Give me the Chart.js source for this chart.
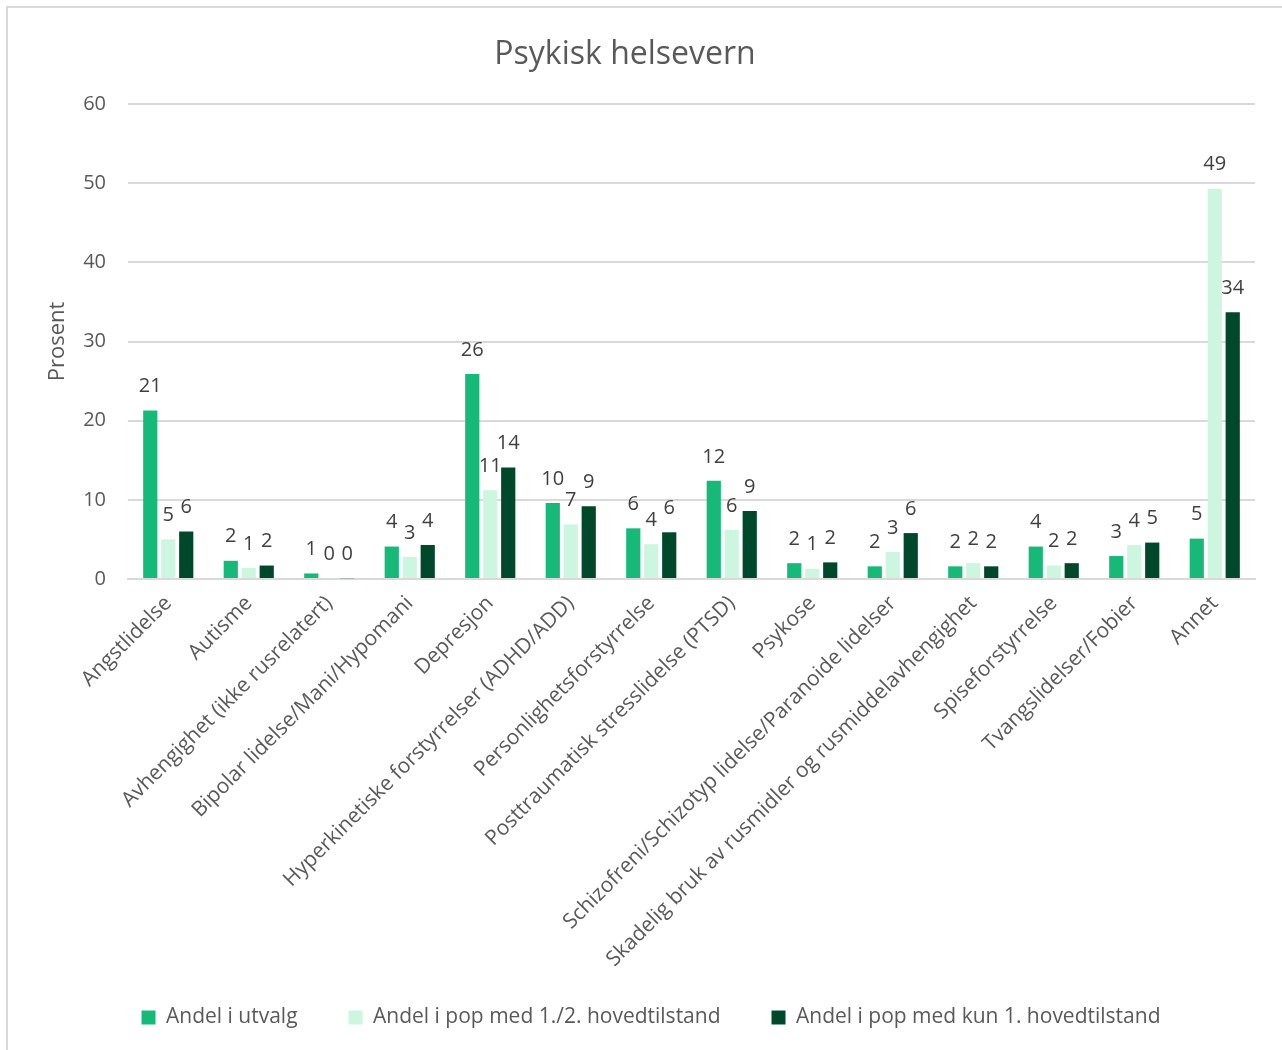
<!DOCTYPE html>
<html lang="no">
<head>
<meta charset="utf-8">
<title>Psykisk helsevern</title>
<script src="https://cdn.jsdelivr.net/npm/chart.js@4.4.1/dist/chart.umd.min.js"></script>
<style>
  html, body { margin: 0; padding: 0; background: #fff; overflow: hidden; }
  #wrap {
    position: absolute; left: 6px; top: 6px;
    width: 1276px; height: 1044px;
    border-left: 2px solid #d9d9d9; border-top: 2px solid #d9d9d9;
    box-sizing: border-box;
  }
</style>
</head>
<body>
<div id="wrap"><canvas id="helseChart"></canvas></div>
<script>
// Kategorier og andeler (prosent)
var kategorier = [
  'Angstlidelse', 'Autisme', 'Avhengighet (ikke rusrelatert)',
  'Bipolar lidelse/Mani/Hypomani', 'Depresjon',
  'Hyperkinetiske forstyrrelser (ADHD/ADD)', 'Personlighetsforstyrrelse',
  'Posttraumatisk stresslidelse (PTSD)', 'Psykose',
  'Schizofreni/Schizotyp lidelse/Paranoide lidelser',
  'Skadelig bruk av rusmidler og rusmiddelavhengighet',
  'Spiseforstyrrelse', 'Tvangslidelser/Fobier', 'Annet'
];
var andelUtvalg = [21.3, 2.3, 0.7, 4.1, 25.9, 9.6, 6.4, 12.4, 2.0, 1.6, 1.6, 4.1, 2.9, 5.1];
var andelPopHoved12 = [5.0, 1.4, 0.1, 2.8, 11.2, 6.9, 4.4, 6.2, 1.3, 3.4, 2.0, 1.7, 4.3, 49.3];
var andelPopKunHoved1 = [6.0, 1.7, 0.1, 4.3, 14.1, 9.2, 5.9, 8.6, 2.1, 5.8, 1.6, 2.0, 4.6, 33.7];
var yTicks = [0, 10, 20, 30, 40, 50, 60];

var tekstFarge = '#595959';
var fontNavn = "'Open Sans', sans-serif";
var bunnPadding = 12;
var plotBunn = 571;

// tall over hver søyle
var verdiEtiketter = {
  id: 'verdiEtiketter',
  afterDatasetsDraw: function (chart) {
    var ctx = chart.ctx;
    ctx.save();
    ctx.font = '20px ' + fontNavn;
    ctx.fillStyle = '#404040';
    ctx.textAlign = 'center';
    ctx.textBaseline = 'bottom';
    chart.data.datasets.forEach(function (ds, i) {
      chart.getDatasetMeta(i).data.forEach(function (bar, j) {
        ctx.fillText(Math.round(ds.data[j]), bar.x, bar.y - 14);
      });
    });
    ctx.restore();
  }
};

// overskrift, litt til venstre for midten
var overskrift = {
  id: 'overskrift',
  afterDraw: function (chart) {
    var ctx = chart.ctx;
    ctx.save();
    ctx.font = '32px ' + fontNavn;
    ctx.fillStyle = tekstFarge;
    ctx.textAlign = 'center';
    ctx.textBaseline = 'middle';
    ctx.fillText('Psykisk helsevern', 617, 47);
    ctx.restore();
  }
};

document.addEventListener('DOMContentLoaded', function () {
  var ctx = document.getElementById('helseChart').getContext('2d');
  var helseChart = new Chart(ctx, {
    type: 'bar',
    data: {
      labels: kategorier,
      datasets: [{
        label: 'Andel i utvalg',
        data: andelUtvalg,
        backgroundColor: '#17b978'
      }, {
        label: 'Andel i pop med 1./2. hovedtilstand',
        data: andelPopHoved12,
        backgroundColor: '#ccf6e0'
      }, {
        label: 'Andel i pop med kun 1. hovedtilstand',
        data: andelPopKunHoved1,
        backgroundColor: '#00482b'
      }]
    },
    options: {
      responsive: true,
      maintainAspectRatio: false,
      animation: false,
      datasets: {
        bar: { categoryPercentage: 0.67, barPercentage: 0.79 }
      },
      layout: { padding: { left: 39, right: 27, top: 96, bottom: bunnPadding } },
      scales: {
        x: {
          afterFit: function (scale) {
            var legendH = scale.chart.legend ? scale.chart.legend.height : 0;
            scale.height = scale.chart.height - bunnPadding - legendH - plotBunn;
            // lange etiketter får gå ned forbi aksens boks
            scale._computeLabelArea = function () { return null; };
          },
          grid: { display: false },
          border: { color: '#d9d9d9', width: 2 },
          ticks: {
            color: tekstFarge,
            font: { family: fontNavn, size: 21 },
            minRotation: 45, maxRotation: 45,
            autoSkip: false, padding: 4
          }
        },
        y: {
          min: 0, max: 60,
          afterBuildTicks: function (scale) {
            scale.ticks = yTicks.map(function (v) { return { value: v }; });
          },
          afterFit: function (scale) { scale.width = 81; },
          grid: { color: '#d9d9d9', lineWidth: 2, drawTicks: false },
          border: { display: false },
          ticks: {
            color: tekstFarge,
            font: { family: fontNavn, size: 20 },
            padding: 22
          },
          title: {
            display: true,
            text: 'Prosent',
            color: tekstFarge,
            font: { family: fontNavn, size: 22 },
            padding: { top: -2, bottom: 0 }
          }
        }
      },
      plugins: {
        legend: {
          position: 'bottom',
          labels: {
            color: tekstFarge,
            font: { family: fontNavn, size: 21 },
            boxWidth: 14, boxHeight: 14,
            padding: 51
          }
        },
        tooltip: { enabled: false }
      }
    },
    plugins: [verdiEtiketter, overskrift]
  });
});
</script>
</body>
</html>
